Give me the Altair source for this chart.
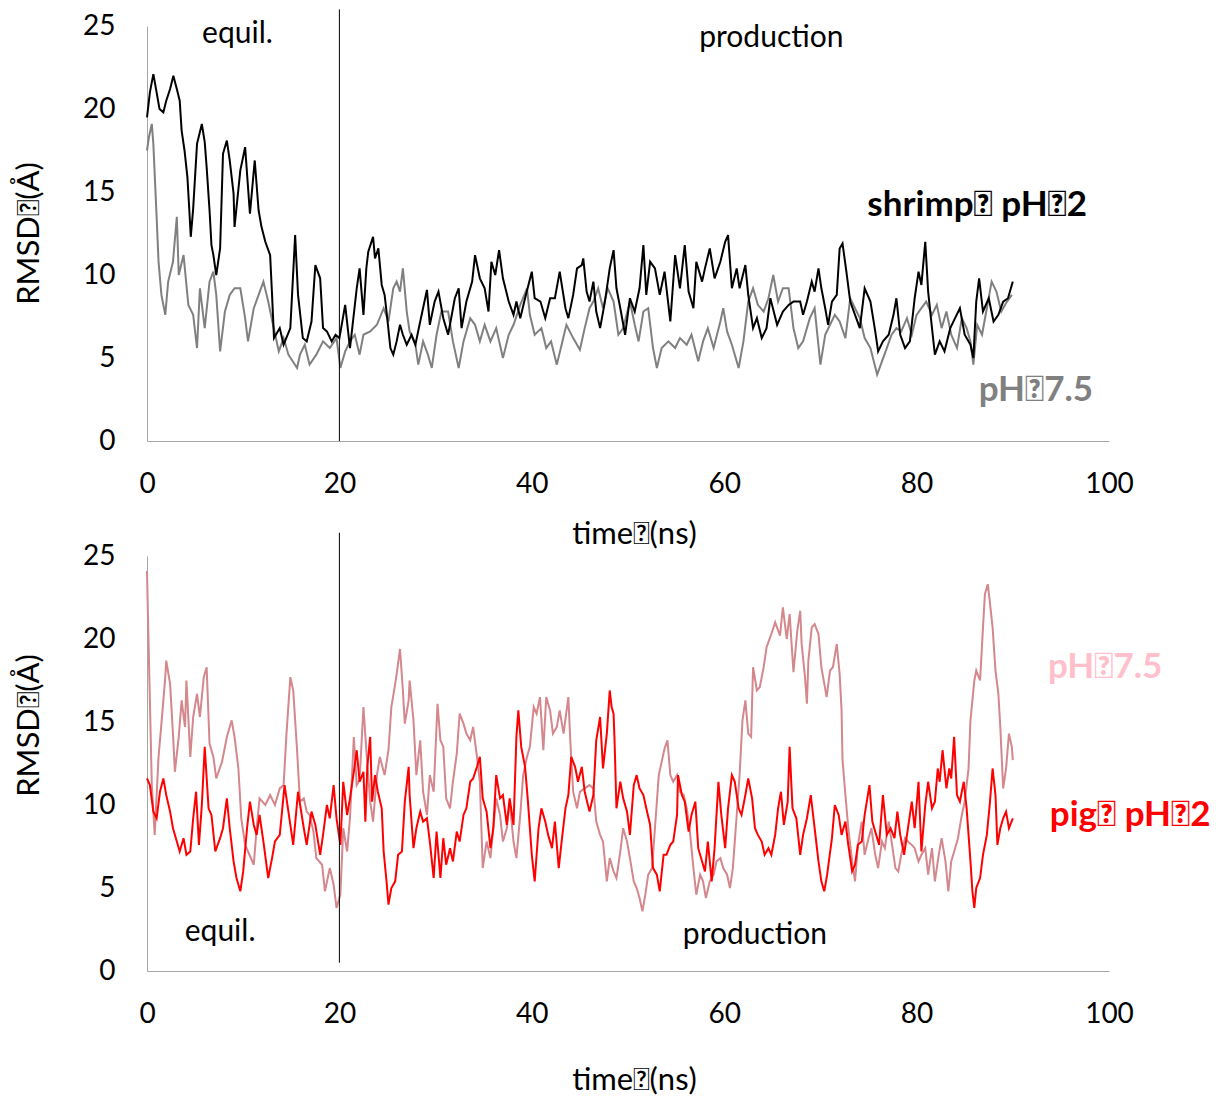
import altair as alt
import pandas as pd

# ---------------- data ----------------
shrimp_ph2_t = [0, 0.3, 0.66, 1.0, 1.3, 1.7, 2.0, 2.4, 2.74, 3.1, 3.4, 3.6, 3.9, 4.2, 4.4, 4.55, 4.8, 5.2, 5.7, 6.0,
                6.2, 6.5, 6.7, 6.9, 7.2, 7.6, 7.9, 8.3, 8.6, 9.0, 9.1, 9.7, 10.2, 10.4, 10.7, 11.2, 11.6, 11.9, 12.3, 12.8,
                13.0, 13.2, 13.8, 14.2, 14.9, 15.4, 15.7, 16.2, 16.6, 17.1, 17.5, 18.0, 18.3, 18.7, 19.2, 19.6, 20.0, 20.6, 21.1, 21.8,
                22.1, 22.5, 22.8, 23.0, 23.5, 23.7, 24.05, 24.4, 24.7, 24.9, 25.3, 25.6, 25.95, 26.3, 26.6, 27.0, 27.5, 27.9, 28.4, 29.1,
                29.4, 29.9, 30.3, 30.8, 31.3, 32.0, 32.4, 32.7, 33.2, 33.8, 34.1, 34.6, 35.1, 35.5, 35.8, 36.2, 36.6, 37.0, 37.6, 38.1,
                38.4, 38.8, 39.3, 40.0, 40.3, 40.9, 41.4, 41.9, 42.4, 42.9, 43.5, 43.8, 44.3, 44.7, 45.2, 45.35, 45.7, 46.0, 46.4, 46.7,
                47.1, 47.6, 48.1, 48.5, 48.8, 49.2, 49.7, 50.2, 50.7, 51.2, 51.6, 51.9, 52.3, 52.8, 53.3, 53.8, 54.4, 54.9, 55.4, 55.9,
                56.3, 56.8, 57.1, 57.7, 58.0, 58.5, 59.0, 59.6, 60.1, 60.4, 60.8, 61.3, 61.6, 62.2, 62.5, 63.0, 63.4, 63.9, 64.4, 64.8,
                65.5, 66.1, 66.7, 67.2, 67.9, 68.2, 68.6, 69.1, 69.4, 69.8, 70.1, 70.5, 70.8, 71.2, 71.7, 72.0, 72.3, 72.7, 73.1, 73.6,
                74.1, 74.6, 75.2, 75.7, 76.0, 76.5, 77.1, 77.6, 77.9, 78.3, 78.8, 79.3, 79.8, 80.2, 80.5, 80.9, 81.2, 81.6, 81.9, 82.4,
                82.9, 83.5, 84.0, 84.5, 85.0, 85.6, 85.9, 86.2, 86.5, 86.9, 87.5, 88.0, 88.5, 89.0, 89.5, 90.0]
shrimp_ph2_v = [19.5, 21.0, 22.1, 21.0, 20.0, 19.8, 20.5, 21.2, 22.0, 21.2, 20.5, 18.7, 17.5, 15.9, 13.9, 12.3, 14.0, 17.9, 19.1, 18.0,
                16.5, 13.9, 11.8, 11.2, 10.0, 11.6, 17.3, 18.1, 16.9, 14.9, 12.9, 16.3, 17.7, 16.1, 13.7, 16.9, 13.9, 12.9, 12.0, 11.2,
                8.8, 6.2, 6.8, 5.8, 6.8, 12.4, 8.8, 6.2, 6.0, 7.2, 10.6, 9.8, 6.8, 6.6, 6.0, 6.4, 6.2, 8.2, 5.6, 9.2,
                10.4, 7.6, 10.4, 11.4, 12.3, 11.0, 11.6, 9.4, 8.8, 7.8, 5.6, 5.2, 6.0, 7.0, 6.4, 5.8, 6.4, 5.8, 7.2, 9.1,
                7.0, 8.4, 9.0, 7.4, 6.4, 8.6, 9.2, 6.8, 8.4, 9.6, 11.2, 9.8, 9.2, 7.8, 10.8, 10.0, 11.5, 9.8, 8.4, 7.6,
                8.4, 7.4, 8.6, 10.2, 8.6, 8.4, 7.4, 8.6, 8.6, 10.2, 8.0, 7.4, 8.8, 10.4, 10.6, 11.0, 9.0, 8.4, 9.6, 7.8,
                6.8, 8.4, 10.4, 11.5, 9.2, 8.0, 6.4, 8.6, 7.8, 9.2, 11.8, 8.8, 10.8, 10.4, 8.8, 10.2, 7.2, 11.2, 9.2, 11.8,
                9.0, 8.0, 10.8, 9.6, 10.4, 11.6, 9.8, 10.8, 12.0, 12.4, 9.2, 10.4, 9.2, 10.6, 8.8, 6.8, 7.4, 6.2, 6.8, 8.6,
                7.0, 7.8, 8.2, 8.4, 8.4, 7.6, 8.4, 9.6, 9.0, 10.4, 9.2, 8.0, 7.0, 8.4, 8.8, 11.6, 11.9, 10.2, 8.4, 7.6,
                6.8, 9.2, 8.4, 6.6, 5.4, 6.0, 6.4, 7.6, 8.6, 6.4, 5.6, 6.0, 8.6, 10.2, 9.4, 12.0, 9.0, 6.8, 5.2, 6.0,
                5.4, 6.8, 7.4, 8.0, 6.4, 5.8, 5.0, 8.4, 9.8, 7.8, 8.6, 7.2, 7.6, 8.4, 8.6, 9.6]

shrimp_ph75_t = [0, 0.2, 0.5, 0.66, 1.0, 1.2, 1.5, 1.9, 2.2, 2.7, 3.1, 3.3, 3.8, 4.3, 4.8, 5.2, 5.5, 6.0, 6.5, 6.9,
                 7.2, 7.6, 8.1, 8.6, 9.1, 9.7, 10.2, 10.5, 11.1, 11.6, 12.1, 12.6, 13.1, 13.7, 14.2, 14.7, 15.6, 15.9, 16.4, 16.9,
                 17.6, 18.3, 19.0, 19.7, 20.1, 20.6, 21.1, 21.6, 22.1, 22.5, 23.2, 23.9, 24.6, 25.1, 25.6, 25.95, 26.3, 26.6, 27.0, 27.3,
                 27.9, 28.2, 28.7, 29.2, 29.6, 30.1, 30.6, 31.3, 31.8, 32.4, 32.9, 33.6, 34.1, 34.6, 35.1, 35.7, 36.3, 37.0, 37.6, 38.1,
                 38.8, 39.5, 39.8, 40.3, 41.0, 41.5, 42.0, 42.6, 43.1, 43.6, 44.3, 45.0, 45.5, 46.0, 46.4, 46.9, 47.4, 47.9, 48.5, 49.0,
                 49.5, 50.2, 50.7, 51.1, 51.6, 52.1, 52.6, 53.0, 53.5, 54.2, 54.9, 55.4, 56.1, 56.6, 57.3, 57.8, 58.3, 58.9, 59.6, 59.9,
                 60.3, 60.8, 61.5, 62.0, 62.5, 63.0, 63.5, 64.1, 64.6, 65.1, 65.6, 66.1, 66.7, 67.2, 67.7, 68.2, 68.9, 69.4, 70.0, 70.5,
                 71.0, 71.5, 72.0, 72.6, 73.1, 73.6, 74.1, 74.6, 75.2, 75.9, 76.4, 76.9, 77.4, 77.9, 78.4, 79.0, 79.5, 80.0, 80.5, 81.0,
                 81.6, 82.1, 82.6, 83.1, 83.6, 84.2, 84.7, 85.2, 85.6, 85.9, 86.3, 86.8, 87.3, 87.8, 88.3, 88.8, 89.4, 89.9]
shrimp_ph75_v = [17.5, 18.3, 19.1, 17.9, 13.5, 10.8, 8.8, 7.6, 9.6, 10.8, 13.5, 10.0, 11.2, 8.2, 7.6, 5.6, 9.2, 6.8, 9.6, 10.2,
                 8.8, 5.4, 7.8, 8.8, 9.2, 9.2, 7.4, 6.0, 8.0, 8.8, 9.6, 8.4, 7.0, 5.4, 6.2, 5.2, 4.4, 5.2, 5.8, 4.6,
                 5.2, 6.0, 5.6, 6.2, 4.4, 5.4, 6.0, 6.4, 5.2, 6.4, 6.6, 7.0, 8.0, 7.2, 9.2, 9.6, 9.0, 10.4, 7.8, 6.6,
                 5.8, 4.6, 6.0, 5.2, 4.4, 6.4, 7.8, 7.8, 6.0, 4.4, 6.0, 7.4, 7.0, 6.0, 7.0, 6.0, 6.8, 5.0, 6.4, 7.0,
                 8.2, 9.2, 7.6, 6.4, 6.8, 5.6, 6.0, 4.6, 5.8, 7.0, 6.2, 5.5, 6.8, 8.0, 8.4, 9.2, 8.0, 9.2, 8.4, 6.4,
                 6.8, 8.4, 7.0, 6.0, 7.8, 8.0, 5.6, 4.4, 5.6, 6.0, 5.6, 6.2, 5.8, 6.4, 4.8, 6.0, 6.8, 5.6, 7.2, 8.0,
                 6.6, 5.8, 4.4, 6.0, 8.4, 9.2, 8.2, 7.8, 8.6, 10.0, 8.4, 9.2, 9.2, 6.8, 5.6, 6.0, 7.4, 8.0, 4.6, 6.4,
                 7.0, 7.6, 7.2, 6.2, 8.6, 8.0, 7.4, 6.2, 5.6, 4.0, 4.8, 5.6, 6.4, 6.8, 6.6, 7.4, 6.4, 7.6, 8.0, 8.4,
                 7.6, 8.2, 6.8, 7.8, 6.4, 5.6, 7.4, 6.8, 6.0, 4.6, 7.0, 6.4, 8.0, 9.6, 9.0, 7.8, 8.4, 8.8]

pig_ph75_t = [0, 0.14, 0.3, 0.5, 0.8, 1.2, 1.5, 1.9, 2.0, 2.4, 2.7, 2.9, 3.3, 3.6, 3.95, 4.1, 4.5, 4.8, 5.2, 5.5,
              5.9, 6.2, 6.5, 6.9, 7.2, 7.8, 8.3, 8.8, 9.1, 9.5, 9.8, 10.2, 10.5, 11.1, 11.4, 11.7, 12.3, 12.8, 13.3, 13.8,
              14.2, 14.5, 14.9, 15.2, 15.6, 15.9, 16.3, 16.6, 16.9, 17.3, 17.6, 18.2, 18.5, 19.0, 19.4, 19.7, 20.1, 20.4, 20.8, 21.1,
              21.5, 21.8, 22.1, 22.5, 22.8, 23.2, 23.5, 23.9, 24.2, 24.7, 25.1, 25.4, 25.8, 26.0, 26.3, 26.6, 26.8, 27.2, 27.3, 27.7,
              28.0, 28.4, 28.7, 29.1, 29.4, 29.8, 30.2, 30.5, 30.8, 31.1, 31.5, 31.8, 32.2, 32.5, 32.9, 33.2, 33.6, 33.9, 34.3, 34.6,
              34.9, 35.3, 35.7, 36.0, 36.3, 36.7, 37.0, 37.4, 37.7, 38.1, 38.4, 38.8, 39.1, 39.5, 39.8, 40.2, 40.5, 40.85, 41.2, 41.5,
              41.9, 42.2, 42.6, 42.9, 43.3, 43.8, 44.0, 44.3, 44.7, 45.0, 45.5, 46.0, 46.4, 46.7, 47.1, 47.4, 47.8, 48.1, 48.5, 48.8,
              49.2, 49.5, 49.9, 50.2, 50.6, 50.9, 51.2, 51.5, 51.8, 52.1, 52.5, 52.8, 53.2, 53.5, 53.8, 54.1, 54.4, 54.7, 55.1, 55.4,
              55.8, 56.1, 56.4, 56.8, 57.1, 57.5, 57.8, 58.1, 58.5, 58.9, 59.2, 59.6, 59.9, 60.3, 60.6, 60.9, 61.3, 61.6, 61.9, 62.2,
              62.5, 62.8, 63.0, 63.4, 63.7, 64.1, 64.4, 64.9, 65.3, 65.8, 66.1, 66.5, 66.8, 67.2, 67.6, 67.9, 68.05, 68.4, 68.6, 68.75,
              69.1, 69.4, 69.8, 70.1, 70.65, 71.0, 71.3, 71.7, 72.0, 72.2, 72.3, 72.6, 72.9, 73.3, 73.6, 73.9, 74.3, 74.6, 75.0, 75.3,
              75.7, 76.0, 76.4, 76.7, 77.1, 77.4, 77.8, 78.1, 78.4, 78.8, 79.1, 79.5, 79.8, 80.2, 80.5, 80.9, 81.2, 81.6, 81.9, 82.3,
              82.6, 83.0, 83.3, 83.6, 84.0, 84.3, 84.7, 85.0, 85.4, 85.6, 86.0, 86.2, 86.6, 86.9, 87.1, 87.4, 87.6, 87.9, 88.2, 88.5,
              88.7, 89.0, 89.3, 89.6, 89.9, 90.0]
pig_ph75_v = [24.1, 20.3, 16.3, 11.2, 8.2, 12.9, 14.9, 17.7, 18.7, 17.3, 14.3, 12.0, 14.1, 16.3, 14.7, 17.5, 12.9, 15.3, 16.7, 15.3,
              17.7, 18.3, 13.7, 12.9, 11.6, 12.6, 14.1, 15.1, 14.1, 12.2, 9.2, 7.6, 7.2, 6.4, 8.6, 10.4, 10.0, 10.6, 10.0, 11.0,
              11.2, 14.3, 17.7, 16.9, 13.3, 10.2, 10.4, 9.6, 9.4, 8.4, 6.8, 6.4, 4.8, 6.2, 5.2, 3.8, 4.6, 8.6, 7.2, 9.2,
              14.1, 11.2, 11.5, 15.9, 13.3, 10.2, 9.0, 11.8, 12.9, 11.8, 13.3, 15.9, 17.3, 18.1, 19.4, 16.9, 14.9, 16.3, 17.5, 15.1,
              11.8, 13.9, 10.8, 9.4, 11.8, 10.8, 16.1, 13.9, 13.5, 10.4, 9.8, 11.4, 13.1, 15.5, 14.9, 14.3, 13.9, 14.7, 12.9, 11.4,
              6.2, 7.8, 6.8, 8.6, 10.4, 9.4, 7.8, 8.6, 10.2, 7.8, 6.8, 9.4, 11.8, 12.9, 13.5, 15.9, 15.5, 16.5, 13.3, 16.5,
              15.7, 14.3, 14.7, 15.7, 14.3, 16.5, 13.9, 10.8, 9.8, 10.8, 11.0, 11.2, 11.0, 9.0, 8.2, 7.8, 5.4, 6.8, 6.0, 5.6,
              7.2, 8.6, 7.8, 6.8, 5.4, 5.0, 4.4, 3.6, 4.6, 5.8, 6.2, 8.6, 11.8, 12.6, 13.4, 13.9, 11.8, 11.4, 11.8, 10.8,
              10.6, 9.8, 8.6, 6.2, 4.6, 5.8, 5.4, 4.4, 5.4, 5.8, 6.6, 6.8, 6.2, 5.8, 5.0, 6.2, 9.4, 11.8, 15.1, 16.3,
              14.3, 14.1, 18.3, 16.9, 17.1, 18.3, 19.5, 20.3, 21.0, 20.2, 21.9, 20.0, 21.5, 18.0, 20.5, 21.7, 19.7, 17.7, 16.1, 18.7,
              20.7, 20.9, 20.3, 18.3, 16.5, 18.1, 18.3, 19.7, 17.9, 15.7, 12.7, 10.6, 8.6, 6.6, 5.4, 7.6, 9.0, 7.0, 8.0, 8.6,
              7.0, 6.2, 7.8, 7.4, 9.0, 7.8, 6.2, 6.0, 7.0, 8.0, 7.8, 7.6, 7.4, 6.6, 7.0, 7.4, 5.8, 7.4, 5.4, 7.0,
              8.0, 6.6, 4.8, 6.6, 7.4, 8.0, 9.4, 10.2, 12.2, 15.1, 17.5, 18.1, 17.5, 20.7, 22.7, 23.3, 22.3, 20.7, 18.1, 16.7,
              14.7, 11.0, 12.2, 14.3, 13.5, 12.7]

pig_ph2_t = [0, 0.3, 0.66, 1.0, 1.35, 1.7, 2.0, 2.4, 2.7, 3.1, 3.4, 3.8, 4.1, 4.5, 4.8, 5.1, 5.4, 5.7, 6.0, 6.4,
             6.7, 7.1, 7.6, 7.9, 8.3, 8.6, 9.0, 9.3, 9.7, 10.0, 10.4, 10.7, 11.1, 11.4, 11.7, 12.1, 12.6, 13.0, 13.3, 13.8,
             14.3, 14.7, 15.2, 15.7, 16.3, 16.6, 17.1, 17.5, 18.0, 18.3, 18.7, 19.0, 19.4, 19.7, 20.1, 20.4, 20.8, 21.1, 21.5, 21.8,
             22.1, 22.5, 22.7, 22.9, 23.2, 23.4, 23.7, 24.0, 24.4, 24.6, 24.9, 25.1, 25.4, 25.8, 26.1, 26.5, 26.8, 27.2, 27.3, 27.7,
             28.0, 28.4, 28.7, 29.1, 29.4, 29.8, 30.1, 30.5, 30.8, 31.1, 31.5, 31.8, 32.2, 32.5, 32.9, 33.2, 33.6, 33.9, 34.3, 34.6,
             34.9, 35.3, 35.7, 36.0, 36.3, 36.7, 37.0, 37.4, 37.7, 38.1, 38.4, 38.6, 38.9, 39.3, 39.6, 40.0, 40.3, 40.7, 41.0, 41.4,
             41.7, 42.1, 42.4, 42.8, 43.1, 43.5, 43.8, 44.1, 44.5, 44.8, 45.2, 45.5, 46.0, 46.4, 46.7, 47.1, 47.4, 47.8, 48.1, 48.3,
             48.5, 48.6, 48.8, 49.2, 49.5, 49.9, 50.2, 50.6, 50.9, 51.2, 51.6, 51.9, 52.3, 52.6, 53.0, 53.3, 53.7, 54.0, 54.4, 54.7,
             55.1, 55.2, 55.6, 55.9, 56.3, 56.6, 57.0, 57.3, 57.7, 58.0, 58.3, 58.7, 59.0, 59.4, 59.7, 60.1, 60.4, 60.8, 61.1, 61.5,
             61.8, 62.2, 62.5, 62.9, 63.2, 63.5, 63.9, 64.2, 64.6, 64.9, 65.3, 65.6, 65.9, 66.2, 66.6, 66.8, 67.1, 67.5, 67.9, 68.2,
             68.6, 69.0, 69.4, 69.8, 70.1, 70.4, 70.7, 71.2, 71.5, 71.9, 72.2, 72.6, 72.9, 73.3, 73.6, 73.9, 74.3, 74.6, 75.1, 75.4,
             75.8, 76.1, 76.5, 76.9, 77.3, 77.7, 78.0, 78.3, 78.7, 79.0, 79.5, 79.8, 80.2, 80.5, 80.9, 81.2, 81.6, 81.9, 82.2, 82.4,
             82.7, 83.1, 83.4, 83.6, 83.9, 84.2, 84.5, 84.9, 85.2, 85.6, 85.8, 86.0, 86.2, 86.6, 86.9, 87.3, 87.6, 87.9, 88.2, 88.4,
             88.7, 89.0, 89.3, 89.6, 90.0]
pig_ph2_v = [11.6, 11.2, 9.6, 9.2, 10.8, 11.6, 10.6, 9.6, 8.6, 7.8, 7.2, 8.0, 7.0, 7.2, 9.2, 10.8, 7.6, 10.0, 13.5, 9.8,
             9.4, 7.2, 8.0, 8.6, 10.4, 8.6, 6.6, 5.6, 4.8, 6.0, 8.6, 10.2, 8.8, 8.2, 9.4, 7.8, 5.6, 6.8, 7.8, 8.2,
             11.2, 9.6, 7.6, 10.8, 8.6, 7.6, 9.6, 8.8, 7.0, 8.2, 10.0, 9.2, 11.2, 9.2, 7.6, 11.4, 9.4, 10.4, 12.0, 13.3,
             11.4, 12.0, 9.0, 12.3, 14.1, 10.2, 11.8, 10.8, 9.8, 7.2, 5.4, 4.0, 5.0, 5.4, 7.0, 7.2, 10.2, 12.3, 10.6, 7.4,
             8.6, 9.6, 9.0, 9.2, 7.8, 5.6, 8.4, 5.6, 8.0, 6.4, 7.4, 6.6, 8.4, 7.8, 9.4, 9.8, 11.4, 11.6, 12.3, 12.9,
             10.4, 9.6, 7.4, 8.6, 11.8, 10.4, 10.6, 8.8, 10.4, 8.8, 14.1, 15.7, 13.5, 12.3, 10.2, 7.0, 5.4, 8.6, 9.8, 9.0,
             8.2, 7.4, 9.0, 6.2, 7.8, 9.8, 10.6, 12.9, 12.3, 11.4, 12.3, 10.8, 9.6, 10.6, 13.9, 15.3, 12.2, 14.3, 16.9, 15.9,
             15.5, 13.9, 9.8, 11.4, 10.4, 9.6, 8.2, 11.2, 11.8, 11.0, 10.6, 9.8, 8.8, 6.2, 5.8, 4.8, 7.0, 7.0, 7.6, 7.8,
             9.4, 11.8, 10.6, 10.2, 8.4, 9.4, 10.2, 7.4, 6.6, 6.0, 7.8, 5.4, 7.4, 11.4, 9.4, 7.4, 9.8, 11.8, 11.4, 9.8,
             9.4, 10.6, 11.6, 10.4, 8.6, 8.2, 7.8, 7.0, 7.4, 7.0, 8.2, 9.8, 10.8, 8.8, 10.2, 13.5, 9.8, 9.2, 7.0, 8.2,
             9.2, 10.6, 8.6, 6.6, 5.4, 4.8, 5.8, 8.0, 10.0, 9.4, 8.2, 9.0, 7.6, 6.0, 6.4, 7.6, 7.8, 9.4, 11.2, 9.0,
             8.2, 7.6, 10.6, 8.2, 8.6, 8.0, 9.6, 8.2, 7.0, 8.2, 10.2, 8.6, 11.4, 7.2, 10.0, 11.4, 9.8, 10.2, 12.2, 11.4,
             13.3, 11.0, 12.2, 11.6, 14.1, 10.6, 10.2, 11.4, 9.8, 6.6, 4.8, 3.8, 5.0, 5.6, 7.0, 8.2, 10.0, 12.2, 10.6, 7.6,
             8.6, 9.2, 9.6, 8.6, 9.2]

x_ticks = [0, 20, 40, 60, 80, 100]
y_ticks = [0, 5, 10, 15, 20, 25]

SEP = "\ue000"
FONT = "Lato"
AXIS_GRAY = "#A6A6A6"

top_labels = pd.DataFrame({
    "x": [9.4, 64.9],
    "y": [24.5, 24.3],
    "text": ["equil.", "production"],
})
top_series_labels = pd.DataFrame({
    "x": [86.3, 92.4],
    "y": [14.2, 3.1],
    "text": ["shrimp" + SEP + " pH" + SEP + "2", "pH" + SEP + "7.5"],
    "color": ["#000000", "#808080"],
})
bot_labels = pd.DataFrame({
    "x": [7.6, 63.2],
    "y": [2.35, 2.17],
    "text": ["equil.", "production"],
})
bot_series_labels = pd.DataFrame({
    "x": [99.6, 102.2],
    "y": [18.3, 9.4],
    "text": ["pH" + SEP + "7.5", "pig" + SEP + " pH" + SEP + "2"],
    "color": ["#FFC0CB", "#FF0000"],
})

xscale = alt.Scale(domain=[0, 100], nice=False, zero=False)
yscale = alt.Scale(domain=[0, 25], nice=False, zero=False)


def make_axes(x_title_y, y_title_y):
    xa = alt.Axis(values=x_ticks, title="time" + SEP + "(ns)", grid=False, ticks=False, tickSize=0,
                  domainColor=AXIS_GRAY, domainWidth=1, labelPadding=29, labelFont=FONT, labelFontSize=28,
                  labelColor="#000000", titleFont=FONT, titleFontSize=31, titleFontWeight="normal",
                  titleColor="#000000", titleY=x_title_y, titleX=487, titleBaseline="middle", labelFlush=False)
    ya = alt.Axis(values=y_ticks, title="RMSD" + SEP + "(Å)", grid=False, ticks=False, tickSize=0,
                  domainColor=AXIS_GRAY, domainWidth=1, labelPadding=32, labelFont=FONT, labelFontSize=28,
                  labelColor="#000000", titleFont=FONT, titleFontSize=31, titleFontWeight="normal",
                  titleColor="#000000", titleX=-118, titleY=y_title_y, titleAngle=270,
                  titleBaseline="middle", titleAlign="center")
    return xa, ya


def line(df_t, df_v, color, xa, ya):
    df = pd.DataFrame({"t": df_t, "v": df_v})
    return alt.Chart(df).mark_line(color=color, strokeWidth=2, clip=False).encode(
        x=alt.X("t:Q", scale=xscale, axis=xa),
        y=alt.Y("v:Q", scale=yscale, axis=ya),
    )


def rule(y0, y1, xa, ya):
    df = pd.DataFrame({"x": [20], "y0": [y0], "y1": [y1]})
    return alt.Chart(df).mark_rule(color="#000000", strokeWidth=1).encode(
        x=alt.X("x:Q", scale=xscale, axis=xa),
        y=alt.Y("y0:Q", scale=yscale, axis=ya),
        y2="y1:Q",
    )


def plain_text(df, xa, ya):
    return alt.Chart(df).mark_text(font=FONT, fontSize=30, color="#000000", baseline="middle").encode(
        x=alt.X("x:Q", scale=xscale, axis=xa),
        y=alt.Y("y:Q", scale=yscale, axis=ya),
        text="text:N",
    )


def bold_text(df, xa, ya):
    return alt.Chart(df).mark_text(font=FONT, fontSize=35, fontWeight="bold", baseline="middle").encode(
        x=alt.X("x:Q", scale=xscale, axis=xa),
        y=alt.Y("y:Q", scale=yscale, axis=ya),
        text="text:N",
        color=alt.Color("color:N", scale=None),
    )


xa1, ya1 = make_axes(93, 207)
top = alt.layer(
    line(shrimp_ph75_t, shrimp_ph75_v, "#808080", xa1, ya1),
    line(shrimp_ph2_t, shrimp_ph2_v, "#000000", xa1, ya1),
    rule(0, 26, xa1, ya1),
    plain_text(top_labels, xa1, ya1),
    bold_text(top_series_labels, xa1, ya1),
).properties(width=962, height=415)

xa2, ya2 = make_axes(109, 169)
bottom = alt.layer(
    line(pig_ph75_t, pig_ph75_v, "#D4878C", xa2, ya2),
    line(pig_ph2_t, pig_ph2_v, "#FF0000", xa2, ya2),
    rule(0.5, 26.4, xa2, ya2),
    plain_text(bot_labels, xa2, ya2),
    bold_text(bot_series_labels, xa2, ya2),
).properties(width=962, height=415)

chart = alt.vconcat(top, bottom, spacing=115, bounds="flush").properties(
    padding={"left": 5, "top": 0, "right": 5, "bottom": 5}
).configure_view(stroke=None)

chart.save("out.html", embed_options={"renderer": "svg", "actions": False})
